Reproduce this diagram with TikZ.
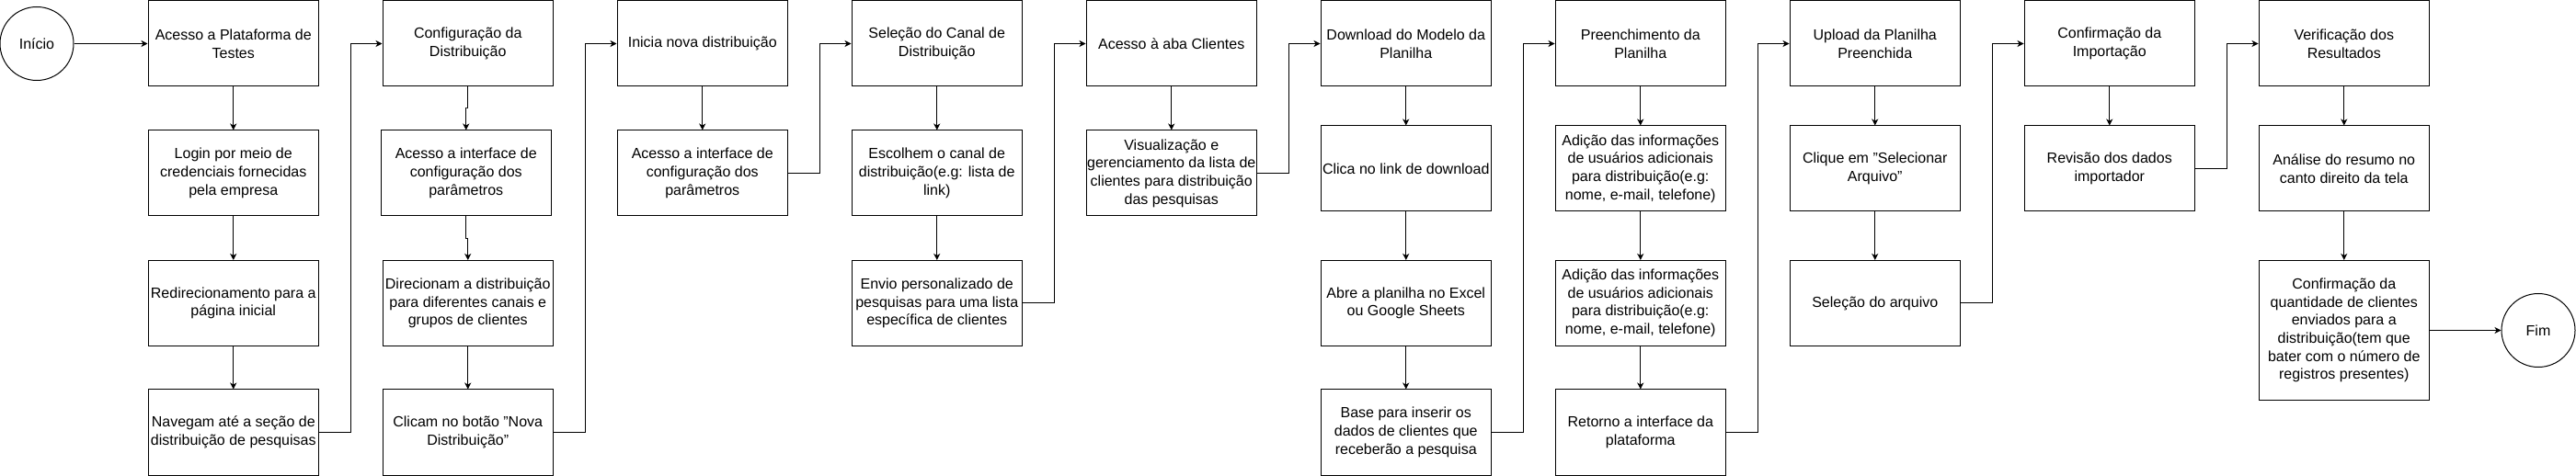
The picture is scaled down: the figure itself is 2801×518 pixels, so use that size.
\documentclass[tikz,border=0pt]{standalone}
\usepackage{fontspec}
\setmainfont{Liberation Sans}
\usetikzlibrary{arrows.meta,calc}
\begin{document}
\begin{tikzpicture}[x=1pt,y=-1pt,
  box/.style={draw=black,line width=1pt,fill=white,minimum width=185.5pt,minimum height=93pt,inner sep=0pt,align=center,font=\fontsize{16}{19.7}\selectfont},
  term/.style={draw=black,line width=1pt,fill=white,circle,minimum size=80pt,inner sep=0pt,align=center,font=\fontsize{16}{19.7}\selectfont},
  conn/.style={draw=black,line width=1pt,-{Stealth[length=7pt,width=7pt,inset=2pt]}}]
\useasboundingbox (0,0) rectangle (2801,518);
\fill[white] (0,0) rectangle (2801,518);
% terminals
\node[term] (ini) at (40,47.5) {Início};
\node[term] (fim) at (2760,359.5) {Fim};
% column 1
\node[box] (c1a) at (253.75,47.5) {Acesso a Plataforma de\\Testes};
\node[box] (c1b) at (253.75,188.5) {Login por meio de\\credenciais fornecidas\\pela empresa};
\node[box] (c1c) at (253.75,330) {Redirecionamento para a\\página inicial};
\node[box] (c1d) at (253.75,470.5) {Navegam até a seção de\\distribuição de pesquisas};
% column 2
\node[box] (c2a) at (508.75,47.5) {Configuração da\\Distribuição};
\node[box] (c2b) at (506.75,188.5) {Acesso a interface de\\configuração dos\\parâmetros};
\node[box] (c2c) at (508.75,330) {Direcionam a distribuição\\para diferentes canais e\\grupos de clientes};
\node[box] (c2d) at (508.75,470.5) {Clicam no botão "Nova\\Distribuição"};
% column 3
\node[box] (c3a) at (763.75,47.5) {Inicia nova distribuição};
\node[box] (c3b) at (763.75,188.5) {Acesso a interface de\\configuração dos\\parâmetros};
% column 4
\node[box] (c4a) at (1018.75,47.5) {Seleção do Canal de\\Distribuição};
\node[box] (c4b) at (1018.75,188.5) {Escolhem o canal de\\distribuição(e.g: lista de\\link)};
\node[box] (c4c) at (1018.75,330) {Envio personalizado de\\pesquisas para uma lista\\específica de clientes};
% column 5
\node[box] (c5a) at (1273.75,47.5) {Acesso à aba Clientes};
\node[box] (c5b) at (1273.75,188.5) {Visualização e\\gerenciamento da lista de\\clientes para distribuição\\das pesquisas};
% column 6
\node[box] (c6a) at (1528.75,47.5) {Download do Modelo da\\Planilha};
\node[box] (c6b) at (1528.75,183.5) {Clica no link de download};
\node[box] (c6c) at (1528.75,330) {Abre a planilha no Excel\\ou Google Sheets};
\node[box] (c6d) at (1528.75,470.5) {Base para inserir os\\dados de clientes que\\receberão a pesquisa};
% column 7
\node[box] (c7a) at (1783.75,47.5) {Preenchimento da\\Planilha};
\node[box] (c7b) at (1783.75,183.5) {Adição das informações\\de usuários adicionais\\para distribuição(e.g:\\nome, e-mail, telefone)};
\node[box] (c7c) at (1783.75,330) {Adição das informações\\de usuários adicionais\\para distribuição(e.g:\\nome, e-mail, telefone)};
\node[box] (c7d) at (1783.75,470.5) {Retorno a interface da\\plataforma};
% column 8
\node[box] (c8a) at (2038.75,47.5) {Upload da Planilha\\Preenchida};
\node[box] (c8b) at (2038.75,183.5) {Clique em "Selecionar\\Arquivo"};
\node[box] (c8c) at (2038.75,330) {Seleção do arquivo};
% column 9
\node[box] (c9a) at (2293.75,47.5) {Confirmação da\\Importação};
\node[box] (c9b) at (2293.75,183.5) {Revisão dos dados\\importador};
% column 10
\node[box] (c10a) at (2548.75,47.5) {Verificação dos\\Resultados};
\node[box] (c10b) at (2548.75,183.5) {Análise do resumo no\\canto direito da tela};
\node[box,minimum height=152pt] (c10c) at (2548.75,359.5) {Confirmação da\\quantidade de clientes\\enviados para a\\distribuição(tem que\\bater com o número de\\registros presentes)};
% vertical connectors
\foreach \a/\b in {c1a/c1b,c1b/c1c,c1c/c1d,c2c/c2d,c3a/c3b,c4a/c4b,c4b/c4c,c5a/c5b,c6a/c6b,c6b/c6c,c6c/c6d,c7a/c7b,c7b/c7c,c7c/c7d,c8a/c8b,c8b/c8c,c9a/c9b,c10a/c10b,c10b/c10c}
  \draw[conn] (\a.south) -- (\b.north);
\foreach \a/\b in {c2a/c2b,c2b/c2c}
  \draw[conn] (\a.south) |- ($(\a.south)!0.5!(\b.north)$) -| (\b.north);
% cross-column connectors
\foreach \a/\b in {c1d/c2a,c2d/c3a,c3b/c4a,c4c/c5a,c5b/c6a,c6d/c7a,c7d/c8a,c8c/c9a,c9b/c10a}
  \draw[conn] (\a.east) -| ($(\a.east)!0.5!(\b.west)$) |- (\b.west);
% terminals
\draw[conn] (ini) -- (c1a);
\draw[conn] (c10c) -- (fim);
\end{tikzpicture}
\end{document}
